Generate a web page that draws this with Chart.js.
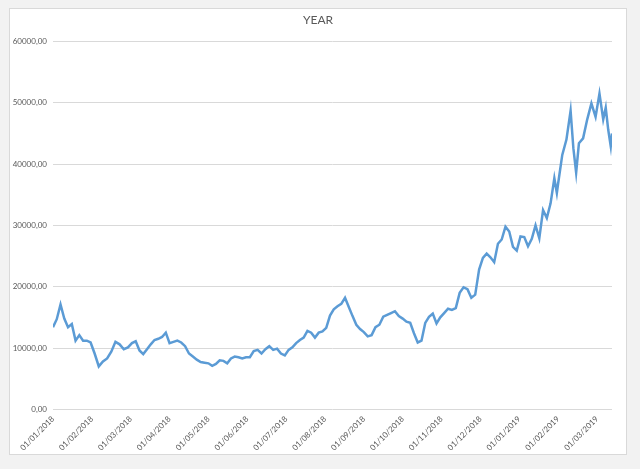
<!DOCTYPE html>
<html>
<head>
<meta charset="utf-8">
<script src="https://cdn.jsdelivr.net/npm/chart.js@4"></script>
<style>
  html, body { margin: 0; padding: 0; background: #f2f2f2; width: 640px; height: 469px; overflow: hidden; }
  #frame { position: absolute; left: 9px; top: 8px; width: 618px; height: 447px; box-sizing: border-box; background: #ffffff; border: 1px solid #d9d9d9; }
  #c { position: absolute; left: 0; top: 0; }
</style>
</head>
<body>
<div id="frame"></div>
<canvas id="c" width="640" height="469"></canvas>
<script>
const dates = [
  '01/01/2018','04/01/2018','07/01/2018','10/01/2018','13/01/2018','16/01/2018','19/01/2018','22/01/2018','25/01/2018','28/01/2018','31/01/2018',
  '03/02/2018','06/02/2018','09/02/2018','12/02/2018','15/02/2018','18/02/2018','21/02/2018','24/02/2018','27/02/2018',
  '02/03/2018','05/03/2018','08/03/2018','11/03/2018','14/03/2018','17/03/2018','20/03/2018','23/03/2018','26/03/2018','29/03/2018',
  '01/04/2018','04/04/2018','07/04/2018','10/04/2018','13/04/2018','16/04/2018','19/04/2018','22/04/2018','25/04/2018','28/04/2018',
  '01/05/2018','04/05/2018','07/05/2018','10/05/2018','13/05/2018','16/05/2018','19/05/2018','22/05/2018','25/05/2018','28/05/2018','31/05/2018',
  '03/06/2018','06/06/2018','09/06/2018','12/06/2018','15/06/2018','18/06/2018','21/06/2018','24/06/2018','27/06/2018','30/06/2018',
  '03/07/2018','06/07/2018','09/07/2018','12/07/2018','15/07/2018','18/07/2018','21/07/2018','24/07/2018','27/07/2018','30/07/2018',
  '02/08/2018','05/08/2018','08/08/2018','11/08/2018','14/08/2018','17/08/2018','20/08/2018','23/08/2018','26/08/2018','29/08/2018',
  '01/09/2018','04/09/2018','07/09/2018','10/09/2018','13/09/2018','16/09/2018','19/09/2018','22/09/2018','25/09/2018','28/09/2018',
  '01/10/2018','04/10/2018','07/10/2018','10/10/2018','13/10/2018','16/10/2018','19/10/2018','22/10/2018','25/10/2018','28/10/2018','31/10/2018',
  '03/11/2018','06/11/2018','09/11/2018','12/11/2018','15/11/2018','18/11/2018','21/11/2018','24/11/2018','27/11/2018','30/11/2018',
  '03/12/2018','06/12/2018','09/12/2018','12/12/2018','15/12/2018','18/12/2018','21/12/2018','24/12/2018','27/12/2018','30/12/2018',
  '02/01/2019','05/01/2019','08/01/2019','11/01/2019','14/01/2019','17/01/2019','20/01/2019','23/01/2019','26/01/2019','29/01/2019','31/01/2019',
  '01/02/2019','04/02/2019','07/02/2019','10/02/2019','12/02/2019','14/02/2019','16/02/2019','19/02/2019','22/02/2019','25/02/2019','28/02/2019',
  '03/03/2019','06/03/2019','08/03/2019','10/03/2019','12/03/2019','13/03/2019'
];

const values = [
  13400,14700,17100,14800,13400,13900,11200,12100,11200,11200,10900,
  9100,7000,7800,8300,9400,11000,10600,9800,10100,
  10800,11100,9600,9000,9800,10600,11300,11500,11800,12500,
  10800,11000,11200,10900,10300,9100,8600,8100,7700,7600,
  7500,7100,7400,8000,7900,7500,8300,8600,8500,8300,8500,
  8500,9500,9700,9100,9800,10300,9700,9900,9100,8800,
  9700,10100,10800,11300,11700,12800,12500,11700,12500,12700,
  13300,15300,16300,16800,17200,18200,16700,15200,13800,13100,
  12600,11900,12100,13400,13800,15100,15400,15700,16000,15200,
  14800,14300,14100,12400,10900,11200,14100,15100,15600,14000,15000,
  15700,16400,16200,16500,19000,19900,19600,18200,18700,22800,
  24700,25400,24800,24000,27000,27700,29800,29000,26500,25900,
  28200,28100,26600,27800,30000,27900,32500,31200,33600,37700,35300,
  36800,41500,44000,48700,42600,38600,43400,44200,47300,49900,47700,
  51500,47300,49200,45600,42900,45000
];

const tickLabels = [
  '01/01/2018','01/02/2018','01/03/2018','01/04/2018','01/05/2018','01/06/2018','01/07/2018','01/08/2018',
  '01/09/2018','01/10/2018','01/11/2018','01/12/2018','01/01/2019','01/02/2019','01/03/2019'
];

const seriesTitle = 'YEAR';

function monthPos(s) {
  const [d, m, y] = s.split('/').map(Number);
  const dim = new Date(y, m, 0).getDate();
  return (y - 2018) * 12 + (m - 1) + (d - 1) / dim;
}

const points = dates.map((d, i) => ({ x: monthPos(d), y: values[i] }));
const xMax = points[points.length - 1].x;

// centre the title over the whole white frame (9..627)
const titleCentre = {
  id: 'titleCentre',
  afterLayout(chart) {
    if (chart.titleBlock) { chart.titleBlock.left = 9; chart.titleBlock.right = 627; }
  }
};

Chart.defaults.font.family = 'Lato, "Open Sans", sans-serif';
Chart.defaults.color = '#595959';

new Chart(document.getElementById('c'), {
  type: 'line',
  data: {
    datasets: [{
      label: seriesTitle,
      data: points,
      borderColor: '#5b9bd5',
      backgroundColor: '#5b9bd5',
      borderWidth: 2.5,
      pointRadius: 0,
      tension: 0,
      fill: false
    }]
  },
  plugins: [titleCentre],
  options: {
    responsive: false,
    animation: false,
    devicePixelRatio: 1,
    layout: { padding: { left: 4, right: 28, top: 0, bottom: 0 } },
    plugins: {
      legend: { display: false },
      tooltip: { enabled: false },
      title: {
        display: true,
        text: seriesTitle,
        color: '#595959',
        font: { size: 12, weight: 'normal' },
        padding: { top: 13, bottom: 14.1 }
      }
    },
    scales: {
      x: {
        type: 'linear',
        min: 0,
        max: xMax,
        grid: { display: false, drawTicks: false },
        border: { display: false },
        afterBuildTicks: s => { s.ticks = tickLabels.map((_, i) => ({ value: i })); },
        afterFit: s => { s.height = 59.7; },
        ticks: {
          autoSkip: false,
          minRotation: 45,
          maxRotation: 45,
          padding: 5,
          font: { size: 8 },
          color: '#595959',
          callback: v => tickLabels[Math.round(v)]
        }
      },
      y: {
        min: 0,
        max: 60000,
        grid: { color: '#d9d9d9', lineWidth: 1, drawTicks: false },
        border: { display: false },
        afterFit: s => { s.width = 49; },
        ticks: {
          stepSize: 10000,
          padding: 6,
          font: { size: 8 },
          color: '#595959',
          callback: v => v.toFixed(0) + ',00'
        }
      }
    }
  }
});
</script>
</body>
</html>
